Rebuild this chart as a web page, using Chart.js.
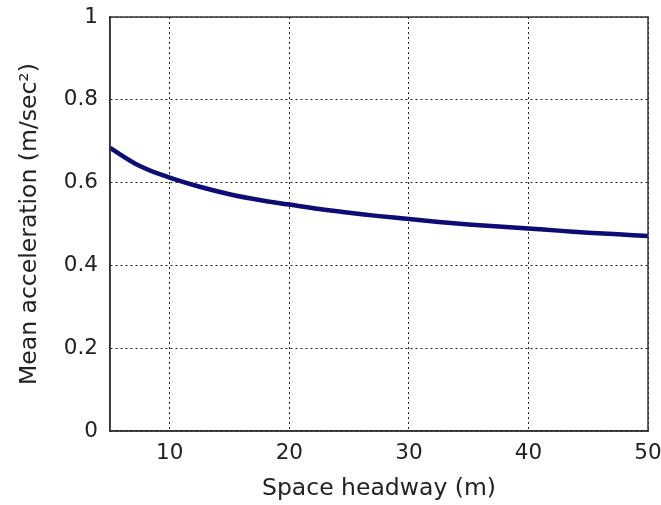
<!DOCTYPE html>
<html><head><meta charset="utf-8">
<script src="https://cdn.jsdelivr.net/npm/chart.js@4"></script>
<style>html,body{margin:0;padding:0;background:#fff;}#wrap{width:661px;height:505px;}</style>
</head><body><div id="wrap"><canvas id="c" width="661" height="505"></canvas></div>
<script>
const headway = [5, 7.5, 10, 12.5, 15, 17.5, 20, 22.5, 25, 27.5, 30, 32.5, 35, 37.5, 40, 42.5, 45, 47.5, 50];
const meanAccel = [0.684, 0.640, 0.612, 0.590, 0.572, 0.558, 0.547, 0.536, 0.527, 0.519, 0.512, 0.505, 0.499, 0.494, 0.489, 0.484, 0.479, 0.475, 0.471];
const xTicks = [10, 20, 30, 40, 50];
const yTicks = [0, 0.2, 0.4, 0.6, 0.8, 1];
const xTitle = 'Space headway (m)';
const yTitle = 'Mean acceleration (m/sec\u00B2)';

const tickFont = {family: '"DejaVu Sans", sans-serif', size: 21.5};
const titleFont = {family: '"DejaVu Sans", sans-serif', size: 23.5};
const boxPlugin = {
  id: 'box',
  afterDatasetsDraw(chart) {
    const a = chart.chartArea, ctx = chart.ctx;
    ctx.save();
    ctx.strokeStyle = '#333';
    ctx.lineWidth = 1.5;
    ctx.strokeRect(a.left, a.top, a.right - a.left, a.bottom - a.top);
    ctx.restore();
  }
};
new Chart(document.getElementById('c'), {
  type: 'line',
  data: {
    datasets: [{
      data: headway.map((x, i) => ({x, y: meanAccel[i]})),
      borderColor: '#0c0c74',
      borderWidth: 4.5,
      pointRadius: 0,
      tension: 0.4,
      fill: false
    }]
  },
  options: {
    responsive: false,
    animation: false,
    plugins: {legend: {display: false}, tooltip: {enabled: false}},
    layout: {padding: {left: 10, right: 13, top: 17, bottom: 2}},
    scales: {
      x: {
        type: 'linear', min: 5, max: 50,
        afterBuildTicks: s => { s.ticks = xTicks.map(v => ({value: v})); },
        afterFit: s => { s.height = 72; s.paddingLeft = 0; s.paddingRight = 0; },
        ticks: {font: tickFont, color: '#222', padding: 10, maxRotation: 0},
        grid: {color: '#222', lineWidth: 1, drawTicks: false},
        border: {display: true, color: '#333', width: 1.5, dash: [2, 3]},
        title: {display: true, text: xTitle, font: titleFont, color: '#222', padding: {top: 0, bottom: 0}}
      },
      y: {
        type: 'linear', min: 0, max: 1,
        afterBuildTicks: s => { s.ticks = yTicks.map(v => ({value: v})); },
        afterFit: s => { s.width = 100; s.paddingTop = 0; s.paddingBottom = 0; },
        ticks: {font: tickFont, color: '#222', padding: 12, callback: v => String(v)},
        grid: {color: '#222', lineWidth: 1, drawTicks: false},
        border: {display: true, color: '#333', width: 1.5, dash: [2, 3]},
        title: {display: true, text: yTitle, font: titleFont, color: '#222', padding: {top: 6, bottom: 4}}
      }
    }
  },
  plugins: [boxPlugin]
});
</script>
</body></html>
